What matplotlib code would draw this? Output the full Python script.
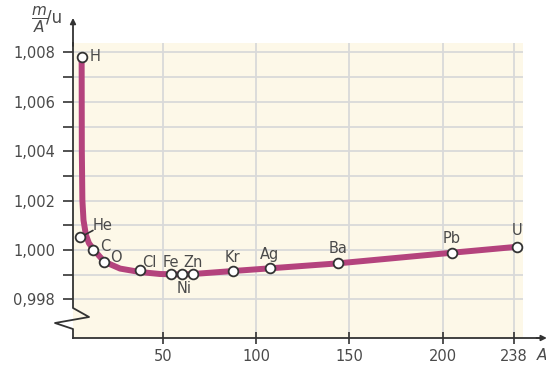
import matplotlib.pyplot as plt

# Elemente (Massenzahl A, m/A in u)
elemente = ['H', 'He', 'C', 'O', 'Cl', 'Fe', 'Ni', 'Zn', 'Kr', 'Ag', 'Ba', 'Pb', 'U']
a_werte = [6.5, 5.6, 12.8, 18.6, 37.8, 54.4, 60.1, 66.3, 87.4, 107.4, 143.7, 204.8, 239.6]
m_pro_a = [1.00783, 1.00051, 1.00000, 0.99953, 0.99919, 0.99903, 0.99903, 0.99903,
           0.99915, 0.99926, 0.99946, 0.99989, 1.00013]

# Verlauf der Kurve
kurve_a = [6.5, 6.6, 6.9, 7.5, 8.8, 10.4, 12.8, 18.6, 27.1, 37.8, 48.5, 60.1, 66.2,
           87.4, 107.4, 143.7, 204.8, 239.6]
kurve_m = [1.00783, 1.00405, 1.00202, 1.00121, 1.00061, 1.00028, 1.00003, 0.99953,
           0.99925, 0.99911, 0.99903, 0.99901, 0.99903, 0.99915, 0.99926, 0.99946,
           0.99989, 1.00013]

x_ticks = [50, 100, 150, 200, 238]
y_ticks = [0.998, 1.000, 1.002, 1.004, 1.006, 1.008]
y_tick_labels = ['0,998', '1,000', '1,002', '1,004', '1,006', '1,008']
y_minor = [0.999, 1.001, 1.003, 1.005, 1.007]

# Beschriftungs-Versatz in Pixeln (dx, dy, ha)
versatz = {'H': (8, 0, 'left'), 'He': (13, 12, 'left'), 'C': (7, 4, 'left'),
           'O': (6, 4, 'left'), 'Cl': (9, 8, 'center'), 'Fe': (0, 12, 'center'),
           'Ni': (2, -14, 'center'), 'Zn': (0, 12, 'center'), 'Kr': (0, 14, 'center'),
           'Ag': (0, 14, 'center'), 'Ba': (0, 15, 'center'), 'Pb': (0, 14, 'center'),
           'U': (0, 16, 'center')}

textfarbe = '#4a4a4a'
linienfarbe = '#333333'

fig = plt.figure(figsize=(5.46, 3.68), dpi=100)
ax = fig.add_axes([73 / 546, 30 / 368, 450 / 546, 295 / 368])
ax.set_facecolor('#fdf8e8')
ax.set_xlim(1.875, 243.0)
ax.set_ylim(0.99644, 1.00838)

ax.set_xticks(x_ticks)
ax.set_xticklabels([str(t) for t in x_ticks])
ax.set_yticks(y_ticks)
ax.set_yticklabels(y_tick_labels)
ax.set_yticks(y_minor, minor=True)
ax.tick_params(axis='y', which='both', direction='out', length=7, width=1.2,
               color=linienfarbe, labelcolor=textfarbe, labelsize=10.5, pad=6)
ax.tick_params(axis='x', direction='inout', length=8, width=1.2,
               color=linienfarbe, labelcolor=textfarbe, labelsize=10.5, pad=4)
ax.grid(True, which='both', color='#d9d9d9', linewidth=1.3)
ax.set_axisbelow(True)
for s in ax.spines.values():
    s.set_visible(False)

# Achsen mit Bruchzeichen
t = ax.transAxes
ax.plot([0, 0, -0.04, 0.0356, 0, 0], [0, 0.0305, 0.0508, 0.0712, 0.1017, 1.0],
        transform=t, color=linienfarbe, lw=1.3, clip_on=False, zorder=5)
ax.plot([0, 1.04], [0, 0], transform=t, color=linienfarbe, lw=1.3, clip_on=False, zorder=5)
ax.annotate('', xy=(0, 1.085), xytext=(0, 0.99), xycoords=t,
            arrowprops=dict(arrowstyle='-|>', color=linienfarbe, lw=1.3,
                            mutation_scale=8, shrinkA=0, shrinkB=0))
ax.annotate('', xy=(1.053, 0), xytext=(1.03, 0), xycoords=t,
            arrowprops=dict(arrowstyle='-|>', color=linienfarbe, lw=1.3,
                            mutation_scale=8, shrinkA=0, shrinkB=0))

ax.plot(kurve_a, kurve_m, color='#b4437d', lw=4.3, solid_capstyle='butt',
        solid_joinstyle='round', zorder=3)
ax.plot(a_werte, m_pro_a, 'o', ms=7, mfc='white', mec=linienfarbe, mew=1.3, zorder=4)

for name, a, m in zip(elemente, a_werte, m_pro_a):
    dx, dy, ha = versatz[name]
    ax.annotate(name, (a, m), xytext=(dx, dy), textcoords='offset pixels',
                ha=ha, va='center', fontsize=10.5, color=textfarbe, zorder=6)

# Hinweislinie fuer He
ax.annotate('', xy=(a_werte[1], m_pro_a[1]), xytext=(13, 7), textcoords='offset pixels',
            arrowprops=dict(arrowstyle='-', color=linienfarbe, lw=1.2, shrinkA=0, shrinkB=4))

fig.text(39 / 546, 1 - 20 / 368, r'$\dfrac{m}{A}$', fontsize=11, color=textfarbe,
         ha='center', va='center')
fig.text(46 / 546, 1 - 18 / 368, '/u', fontsize=12, color=textfarbe,
         ha='left', va='center')
fig.text(537 / 546, 1 - 356 / 368, 'A', fontsize=11, style='italic', color=textfarbe,
         ha='left', va='center')

fig.savefig('out.png', dpi=100)
